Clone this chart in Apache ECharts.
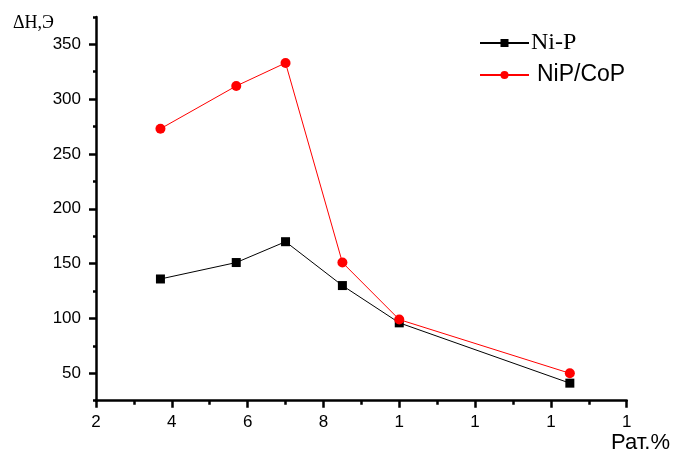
<!DOCTYPE html>
<html>
<head>
<meta charset="utf-8">
<script src="https://cdn.jsdelivr.net/npm/echarts@6/dist/echarts.min.js"></script>
<style>html,body{margin:0;padding:0;background:#fff;}#c{width:677px;height:457px;}</style>
</head>
<body>
<div id="c"></div>
<script>
// Data
const xNiP = [3.7, 5.7, 7.0, 8.5, 10.0, 14.5];
const yNiP = [136, 151, 170, 130, 96, 41];
const xNiPCoP = [3.7, 5.7, 7.0, 8.5, 10.0, 14.5];
const yNiPCoP = [273, 312, 333, 151, 99, 50];
const xTickLabels = ['2', '4', '6', '8', '1', '1', '1', '1'];
const seriesNames = ['Ni-P', 'NiP/CoP'];
const yAxisTitle = 'ΔH,Э';
const xAxisTitle = 'Рат.%';

const pairs = (xs, ys) => xs.map((x, i) => [x, ys[i]]);

const chart = echarts.init(document.getElementById('c'), null, {renderer: 'canvas'});
const axisLineStyle = {color: '#000', width: 2.5};
const tickStyle = {color: '#000', width: 2.5};
chart.setOption({
  animation: false,
  backgroundColor: '#fff',
  grid: [
    {left: 96, top: 16.9, width: 530.7, height: 383.8},
    {left: 96, top: 44.3, width: 530.7, height: 329}
  ],
  xAxis: [
    {
      type: 'value', gridIndex: 0, min: 2, max: 16, interval: 2,
      axisLine: {show: true, lineStyle: axisLineStyle, onZero: false},
      axisTick: {show: true, length: 7, lineStyle: tickStyle},
      minorTick: {show: true, splitNumber: 2, length: 4, lineStyle: tickStyle},
      splitLine: {show: false},
      axisLabel: {
        margin: 13, color: '#000', fontFamily: 'Liberation Sans, Arial', fontSize: 17,
        formatter: v => xTickLabels[Math.round((v - 2) / 2)]
      }
    },
    {type: 'value', gridIndex: 1, min: 2, max: 16, show: false}
  ],
  yAxis: [
    {
      type: 'value', gridIndex: 0, min: 25, max: 375, interval: 25,
      axisLine: {show: true, lineStyle: axisLineStyle, onZero: false},
      axisTick: {show: true, length: 3, lineStyle: tickStyle},
      splitLine: {show: false},
      axisLabel: {
        margin: 15, color: '#000', fontFamily: 'Liberation Sans, Arial', fontSize: 17,
        formatter: v => (v % 50 === 0 ? String(v) : '')
      }
    },
    {
      type: 'value', gridIndex: 1, min: 50, max: 350, interval: 50,
      axisLine: {show: false},
      axisTick: {show: true, length: 7, lineStyle: tickStyle},
      splitLine: {show: false},
      axisLabel: {show: false}
    }
  ],
  legend: {
    orient: 'vertical', left: 479, top: 31, padding: 0, itemWidth: 49, itemHeight: 10, itemGap: 8,
    data: [
      {name: seriesNames[0], textStyle: {fontFamily: 'Liberation Serif, Times New Roman', fontSize: 24, lineHeight: 24, color: '#000', padding: [0, 0, 0, -3]}},
      {name: seriesNames[1], textStyle: {fontFamily: 'Liberation Sans, Arial', fontSize: 23, lineHeight: 24, color: '#000', padding: [0, 0, 0, 3]}}
    ]
  },
  series: [
    {
      name: seriesNames[0], type: 'line', xAxisIndex: 0, yAxisIndex: 0,
      data: pairs(xNiP, yNiP), symbol: 'rect', symbolSize: 9,
      itemStyle: {color: '#000'}, lineStyle: {color: '#000', width: 1}
    },
    {
      name: seriesNames[1], type: 'line', xAxisIndex: 0, yAxisIndex: 0,
      data: pairs(xNiPCoP, yNiPCoP), symbol: 'circle', symbolSize: 10,
      itemStyle: {color: '#ff0000'}, lineStyle: {color: '#ff0000', width: 1}
    }
  ],
  graphic: [
    {type: 'text', left: 13, top: 14, style: {text: yAxisTitle, font: '18px "Liberation Serif", "Times New Roman"', fill: '#000'}},
    {type: 'text', left: 611, top: 432, style: {text: xAxisTitle, font: '22px "Liberation Sans", Arial', fill: '#000'}}
  ]
});
</script>
</body>
</html>
